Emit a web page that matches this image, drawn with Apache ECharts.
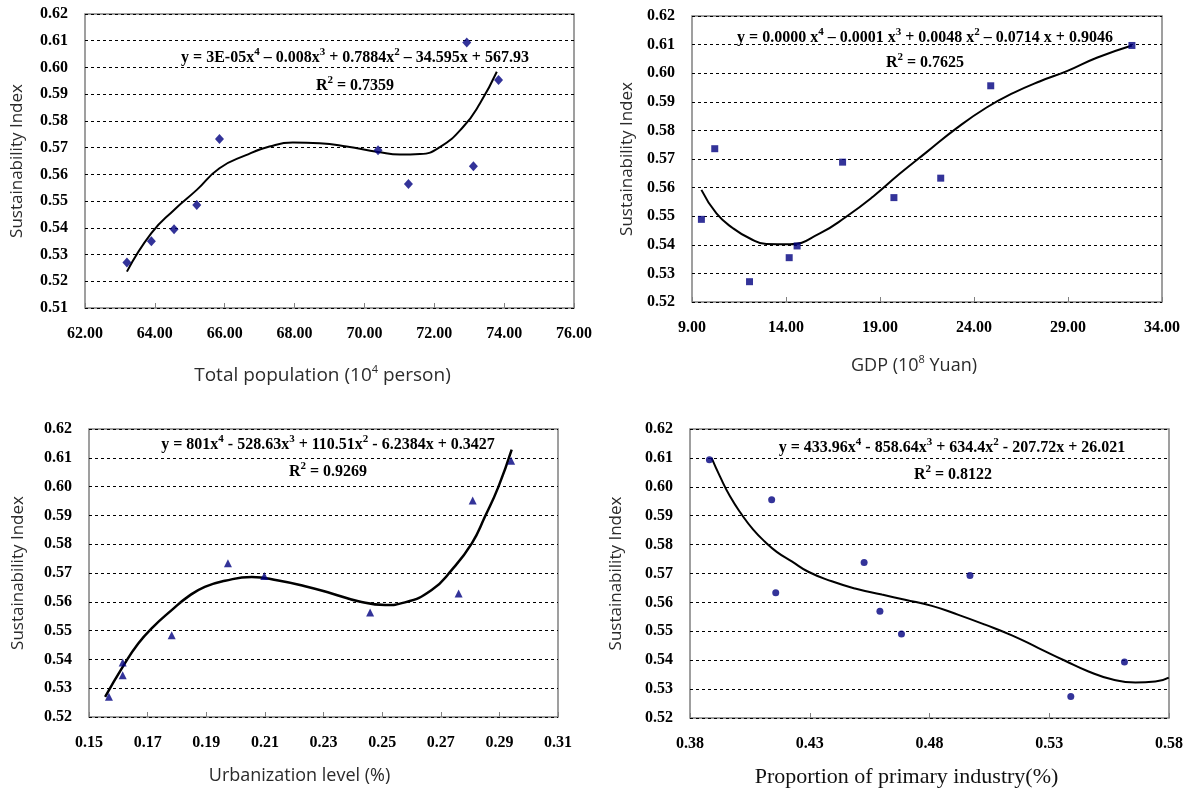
<!DOCTYPE html>
<html>
<head>
<meta charset="utf-8">
<title>Sustainability Index scatter plots</title>
<script src="https://cdn.jsdelivr.net/npm/echarts@6/dist/echarts.min.js"></script>
<style>
  html, body { margin: 0; padding: 0; background: #fff; }
  #chart { width: 1186px; height: 790px; }
</style>
</head>
<body>
<div id="chart"></div>
<script>
// panel 1: total population
var popX = [63.20, 63.90, 64.55, 65.20, 65.85, 70.39, 71.26, 72.93, 73.12, 73.84]
var popY = [0.5270, 0.5350, 0.5395, 0.5485, 0.5732, 0.5690, 0.5564, 0.6093, 0.5630, 0.5953]
var popFitX = [63.20, 63.90, 64.55, 65.20, 65.85, 66.61, 67.28, 67.95, 68.72, 69.49, 70.39, 71.02, 71.59, 72.16, 72.83, 73.31, 73.79]
var popFitY = [0.5236, 0.5380, 0.5467, 0.5542, 0.5623, 0.5672, 0.5704, 0.5719, 0.5716, 0.5704, 0.5684, 0.5674, 0.5676, 0.5702, 0.5778, 0.5866, 0.5984]

// panel 2: GDP
var gdpX = [9.50, 10.21, 12.06, 14.17, 14.59, 17.01, 19.74, 22.23, 24.89, 32.40]
var gdpY = [0.5489, 0.5736, 0.5271, 0.5355, 0.5396, 0.5689, 0.5565, 0.5633, 0.5956, 0.6097]
var gdpFitX = [9.50, 10.30, 11.18, 12.06, 12.96, 14.20, 15.80, 17.22, 18.64, 20.06, 21.48, 23.08, 24.67, 26.10, 27.52, 28.94, 30.53, 32.40]
var gdpFitY = [0.5592, 0.5510, 0.5458, 0.5423, 0.5403, 0.5402, 0.5440, 0.5499, 0.5569, 0.5649, 0.5724, 0.5808, 0.5880, 0.5931, 0.5972, 0.6007, 0.6054, 0.6097]

// panel 3: urbanization level
var urbX = [0.1568, 0.1615, 0.1615, 0.1782, 0.1974, 0.2098, 0.2459, 0.2761, 0.2809, 0.2940]
var urbY = [0.5270, 0.5389, 0.5345, 0.5484, 0.5734, 0.5690, 0.5563, 0.5629, 0.5952, 0.6090]
var urbFitX = [0.1555, 0.1615, 0.1668, 0.1719, 0.1782, 0.1838, 0.1895, 0.1964, 0.2055, 0.2146, 0.2237, 0.2328, 0.2419, 0.2510, 0.2578, 0.2669, 0.2737, 0.2806, 0.2851, 0.2897, 0.2942]
var urbFitY = [0.5270, 0.5374, 0.5455, 0.5513, 0.5571, 0.5618, 0.5652, 0.5673, 0.5686, 0.5674, 0.5654, 0.5629, 0.5602, 0.5589, 0.5598, 0.5641, 0.5710, 0.5803, 0.5896, 0.6000, 0.6128]

// panel 4: proportion of primary industry
var priX = [0.3881, 0.4141, 0.4158, 0.4527, 0.4593, 0.4683, 0.4969, 0.5390, 0.5614]
var priY = [0.6094, 0.5955, 0.5633, 0.5738, 0.5569, 0.5491, 0.5693, 0.5274, 0.5394]
var priFitX = [0.3890, 0.3925, 0.3967, 0.4016, 0.4064, 0.4113, 0.4162, 0.4225, 0.4294, 0.4392, 0.4489, 0.4601, 0.4698, 0.4810, 0.4921, 0.5032, 0.5144, 0.5255, 0.5366, 0.5464, 0.5561, 0.5660, 0.5743, 0.5799]
var priFitY = [0.6100, 0.6036, 0.5967, 0.5904, 0.5852, 0.5810, 0.5775, 0.5742, 0.5706, 0.5673, 0.5648, 0.5627, 0.5609, 0.5588, 0.5557, 0.5523, 0.5486, 0.5442, 0.5398, 0.5361, 0.5334, 0.5323, 0.5326, 0.5340]

var chart = echarts.init(document.getElementById('chart'))

function pairs (xs, ys) {
  return xs.map(function (x, i) { return [x, ys[i]] })
}

var tickFont = { fontFamily: 'Liberation Serif', fontWeight: 'bold', fontSize: 16, color: '#000' }
var sansTitle = { fontFamily: 'Open Sans', fontSize: 17, color: '#2b2b2b' }
var eqRich = {
  b: { fontFamily: 'Liberation Serif', fontWeight: 'bold', fontSize: 16, lineHeight: 22, color: '#000' },
  s: { fontFamily: 'Liberation Serif', fontWeight: 'bold', fontSize: 11, lineHeight: 12, verticalAlign: 'top', color: '#000' }
}

function xAxis (idx, min, max, interval, name, nameStyle, gap, shift) {
  return {
    type: 'value', gridIndex: idx, min: min, max: max, interval: interval,
    axisLine: { show: false },
    axisTick: { show: true, inside: true, length: 5, lineStyle: { color: '#808080' } },
    splitLine: { show: false },
    axisLabel: Object.assign({ margin: 18, formatter: function (v) { return v.toFixed(2) } }, tickFont),
    name: name, nameLocation: 'middle', nameGap: gap,
    nameTextStyle: Object.assign({ padding: [0, shift, 0, 0] }, nameStyle)
  }
}

function yAxis (idx, min, max, gap) {
  return {
    type: 'value', gridIndex: idx, min: min, max: max, interval: 0.01,
    axisLine: { show: false },
    axisTick: { show: false },
    splitLine: { show: true, lineStyle: { color: '#000', type: [3, 3], width: 1 } },
    axisLabel: Object.assign({ margin: 17, formatter: function (v) { return v.toFixed(2) } }, tickFont),
    name: 'Sustainability Index', nameLocation: 'middle', nameRotate: 90, nameGap: gap,
    nameTextStyle: sansTitle
  }
}

function pointSeries (idx, xs, ys, symbol, size) {
  return {
    type: 'scatter', xAxisIndex: idx, yAxisIndex: idx,
    symbol: symbol, symbolSize: size,
    itemStyle: { color: '#000080' },
    data: pairs(xs, ys), z: 3
  }
}

function fitSeries (idx, xs, ys, width) {
  return {
    type: 'line', xAxisIndex: idx, yAxisIndex: idx,
    smooth: 0.5, showSymbol: false, silent: true,
    lineStyle: { color: '#000', width: width },
    data: pairs(xs, ys), z: 2
  }
}

function eqText (x, y, text) {
  return {
    type: 'text', x: x, y: y,
    style: { text: text, rich: eqRich, align: 'center', verticalAlign: 'middle' }
  }
}

var supRich = { s: { fontSize: 11, verticalAlign: 'top', lineHeight: 12, color: '#2b2b2b', fontFamily: 'Open Sans' } }
var popName = { fontFamily: 'Open Sans', color: '#2b2b2b', fontSize: 19, lineHeight: 24, rich: supRich }
var gdpName = { fontFamily: 'Open Sans', color: '#2b2b2b', fontSize: 18, lineHeight: 24, rich: supRich }
var urbName = { fontFamily: 'Open Sans', fontSize: 18, color: '#2b2b2b' }
var priName = { fontFamily: 'Liberation Serif', fontSize: 22, color: '#111' }

var border = { show: true, borderColor: '#808080', borderWidth: 1.5, backgroundColor: '#fff' }

chart.setOption({
  backgroundColor: '#fff',
  animation: false,
  grid: [
    Object.assign({ left: 85, top: 14, width: 489, height: 294 }, border),
    Object.assign({ left: 692, top: 16, width: 470, height: 286 }, border),
    Object.assign({ left: 89, top: 429, width: 469, height: 288 }, border),
    Object.assign({ left: 690, top: 429, width: 479, height: 289 }, border)
  ],
  xAxis: [
    xAxis(0, 62, 76, 2, 'Total population (10{s|4} person)', popName, 56, 14),
    xAxis(1, 9, 34, 5, 'GDP (10{s|8} Yuan)', gdpName, 52, 26),
    xAxis(2, 0.15, 0.31, 0.02, 'Urbanization level (%)', urbName, 50, 48),
    xAxis(3, 0.38, 0.58, 0.05, 'Proportion of primary industry(%)', priName, 48, 46)
  ],
  yAxis: [
    yAxis(0, 0.51, 0.62, 59),
    yAxis(1, 0.52, 0.62, 56),
    yAxis(2, 0.52, 0.62, 62),
    yAxis(3, 0.52, 0.62, 65)
  ],
  series: [
    pointSeries(0, popX, popY, 'diamond', [9, 10]),
    fitSeries(0, popFitX, popFitY, 2),
    pointSeries(1, gdpX, gdpY, 'rect', 7),
    fitSeries(1, gdpFitX, gdpFitY, 2),
    pointSeries(2, urbX, urbY, 'triangle', 8),
    fitSeries(2, urbFitX, urbFitY, 2.5),
    pointSeries(3, priX, priY, 'circle', 7),
    fitSeries(3, priFitX, priFitY, 2)
  ],
  graphic: [
    eqText(355, 58, '{b|y = 3E-05x}{s|4}{b| – 0.008x}{s|3}{b| + 0.7884x}{s|2}{b| – 34.595x + 567.93}'),
    eqText(355, 86, '{b|R}{s|2}{b| = 0.7359}'),
    eqText(925, 38, '{b|y = 0.0000 x}{s|4}{b| – 0.0001 x}{s|3}{b| + 0.0048 x}{s|2}{b| – 0.0714 x + 0.9046}'),
    eqText(925, 63, '{b|R}{s|2}{b| = 0.7625}'),
    eqText(328, 445, '{b|y = 801x}{s|4}{b| - 528.63x}{s|3}{b| + 110.51x}{s|2}{b| - 6.2384x + 0.3427}'),
    eqText(328, 472, '{b|R}{s|2}{b| = 0.9269}'),
    eqText(952, 448, '{b|y = 433.96x}{s|4}{b| - 858.64x}{s|3}{b| + 634.4x}{s|2}{b| - 207.72x + 26.021}'),
    eqText(953, 475, '{b|R}{s|2}{b| = 0.8122}')
  ]
})
</script>
</body>
</html>
